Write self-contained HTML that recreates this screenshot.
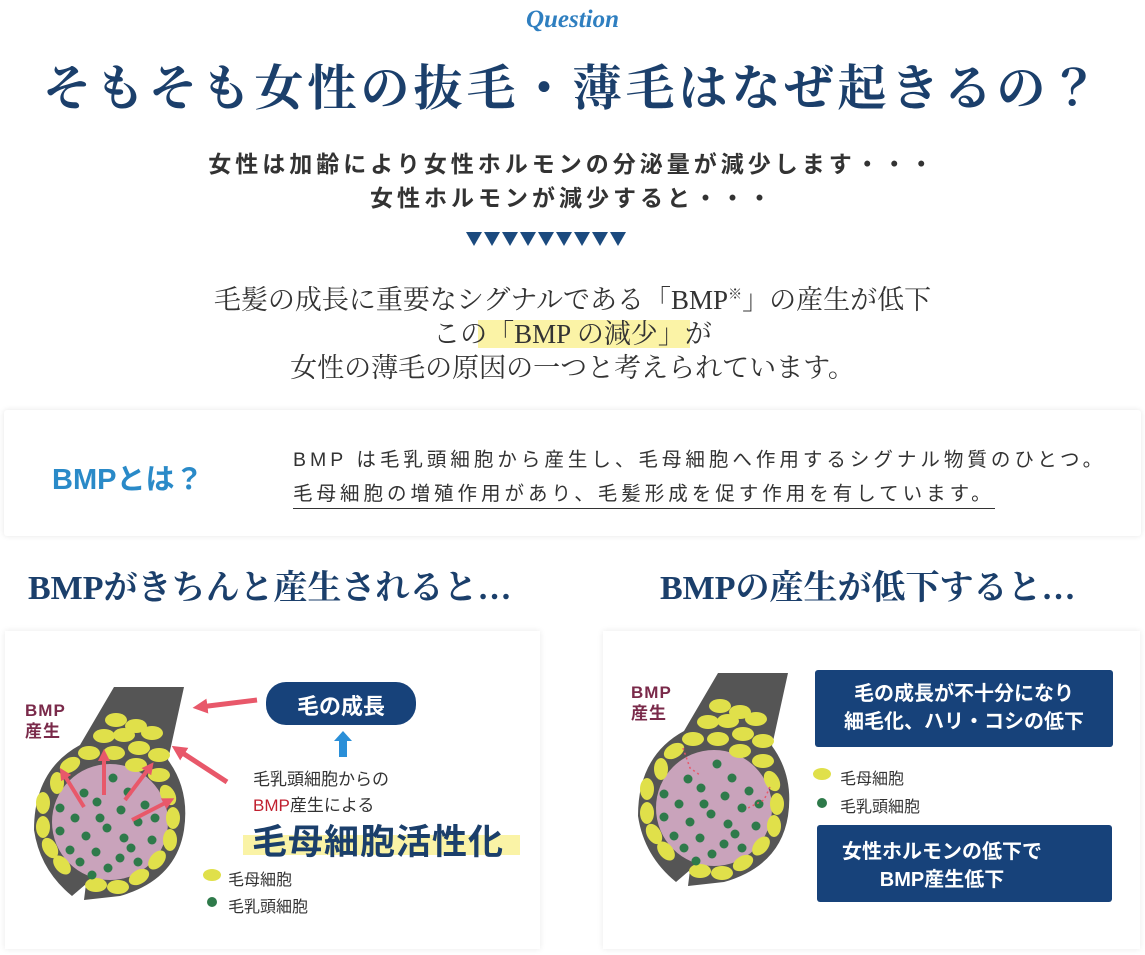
<!DOCTYPE html>
<html><head><meta charset="utf-8"><style>
*{margin:0;padding:0;box-sizing:border-box}
body{width:1145px;height:955px;background:#fff;position:relative;overflow:hidden;font-family:"Liberation Sans","Noto Sans CJK JP",sans-serif}
.a{position:absolute;white-space:nowrap}
.serif{font-family:"Liberation Serif","Noto Serif CJK JP",serif}
.c{left:0;width:1145px;text-align:center}
.navy{color:#1b3f6b}
</style></head><body>
<div class="a c serif" style="top:6px;font-size:25px;font-style:italic;font-weight:bold;color:#2f7fc0;">Question</div>
<div class="a c serif navy" style="top:50px;font-size:49px;font-weight:bold;letter-spacing:4px;">そもそも女性の抜毛・薄毛はなぜ起きるの？</div>
<div class="a c" style="top:145px;font-size:23px;font-weight:bold;color:#333;letter-spacing:4px;">女性は加齢により女性ホルモンの分泌量が減少します・・・</div>
<div class="a c" style="top:179px;font-size:23px;font-weight:bold;color:#333;letter-spacing:4px;">女性ホルモンが減少すると・・・</div>
<svg class="a" style="left:0;top:0" width="1145" height="955">
<g fill="#1b4a7e">
<polygon points="466,232 482,232 474,246"/><polygon points="484,232 500,232 492,246"/><polygon points="502,232 518,232 510,246"/><polygon points="520,232 536,232 528,246"/><polygon points="538,232 554,232 546,246"/><polygon points="556,232 572,232 564,246"/><polygon points="574,232 590,232 582,246"/><polygon points="592,232 608,232 600,246"/><polygon points="610,232 626,232 618,246"/>
</g>
<rect x="478" y="320" width="212" height="28" fill="#fbf3a6"/>
</svg>
<div class="a c serif" style="top:278px;font-size:27px;color:#333;">毛髪の成長に重要なシグナルである「BMP<sup style="font-size:14px">※</sup>」の産生が低下</div>
<div class="a c serif" style="top:312px;font-size:27px;color:#333;">この「BMP の減少」が</div>
<div class="a c serif" style="top:346px;font-size:27px;color:#333;">女性の薄毛の原因の一つと考えられています。</div>

<div class="a" style="left:4px;top:410px;width:1137px;height:126px;background:#fff;box-shadow:0 0 6px rgba(0,0,0,.10);border-radius:3px"></div>
<div class="a" style="left:52px;top:456px;font-size:29px;font-weight:bold;color:#2a8ac8;">BMPとは？</div>
<div class="a" style="left:293px;top:443px;font-size:19.5px;color:#333;letter-spacing:4px;">BMP は毛乳頭細胞から産生し、毛母細胞へ作用するシグナル物質のひとつ。</div>
<div class="a" style="left:293px;top:477px;font-size:19.5px;color:#333;letter-spacing:4px;border-bottom:1.5px solid #333;padding-bottom:2px;">毛母細胞の増殖作用があり、毛髪形成を促す作用を有しています。</div>

<div class="a serif navy" style="left:28px;top:560px;font-size:34px;font-weight:bold;">BMPがきちんと産生されると…</div>
<div class="a serif navy" style="left:660px;top:560px;font-size:34px;font-weight:bold;">BMPの産生が低下すると…</div>

<div class="a" style="left:5px;top:631px;width:535px;height:318px;background:#fff;box-shadow:0 0 6px rgba(0,0,0,.09)"></div>
<div class="a" style="left:603px;top:631px;width:537px;height:318px;background:#fff;box-shadow:0 0 6px rgba(0,0,0,.09)"></div>

<svg class="a" style="left:0;top:0" width="1145" height="955">
<defs>
<g id="fol">
<path d="M114,687 L184,687 L168,760 Q190,790 184,830 Q176,880 120,896 L84,900 L86,884 L72,896 Q40,870 34,830 Q34,770 80,745 Z" fill="#555"/>
<circle cx="110" cy="822" r="58" fill="#c9a3bb"/>
<g fill="#e0e04a">
<ellipse cx="116" cy="720" rx="11" ry="7"/><ellipse cx="136" cy="726" rx="11" ry="7"/><ellipse cx="104" cy="736" rx="11" ry="7"/><ellipse cx="124" cy="735" rx="11" ry="7"/><ellipse cx="152" cy="733" rx="11" ry="7"/><ellipse cx="139" cy="748" rx="11" ry="7"/><ellipse cx="159" cy="755" rx="11" ry="7"/><ellipse cx="114" cy="753" rx="11" ry="7"/><ellipse cx="136" cy="765" rx="11" ry="7"/><ellipse cx="159" cy="775" rx="11" ry="7"/>
<ellipse cx="70" cy="765" rx="11" ry="7" transform="rotate(-30 70 765)"/><ellipse cx="57" cy="783" rx="7" ry="11"/><ellipse cx="43" cy="803" rx="7" ry="11"/><ellipse cx="43" cy="827" rx="7" ry="11"/><ellipse cx="50" cy="848" rx="7" ry="11" transform="rotate(-30 50 848)"/><ellipse cx="62" cy="865" rx="7" ry="11" transform="rotate(-40 62 865)"/><ellipse cx="96" cy="885" rx="11" ry="7"/><ellipse cx="118" cy="887" rx="11" ry="7"/><ellipse cx="139" cy="877" rx="11" ry="7" transform="rotate(-30 139 877)"/><ellipse cx="157" cy="860" rx="11" ry="7" transform="rotate(-50 157 860)"/><ellipse cx="170" cy="840" rx="7" ry="11"/><ellipse cx="173" cy="818" rx="7" ry="11"/><ellipse cx="168" cy="795" rx="7" ry="11" transform="rotate(-30 168 795)"/><ellipse cx="89" cy="753" rx="11" ry="7"/>
</g>
<g fill="#2e7a4a">
<circle cx="113" cy="778" r="4.5"/><circle cx="84" cy="793" r="4.5"/><circle cx="128" cy="792" r="4.5"/><circle cx="97" cy="802" r="4.5"/><circle cx="121" cy="810" r="4.5"/><circle cx="145" cy="805" r="4.5"/><circle cx="60" cy="808" r="4.5"/><circle cx="75" cy="818" r="4.5"/><circle cx="100" cy="818" r="4.5"/><circle cx="138" cy="822" r="4.5"/><circle cx="155" cy="818" r="4.5"/><circle cx="60" cy="831" r="4.5"/><circle cx="86" cy="836" r="4.5"/><circle cx="107" cy="828" r="4.5"/><circle cx="124" cy="838" r="4.5"/><circle cx="152" cy="840" r="4.5"/><circle cx="70" cy="850" r="4.5"/><circle cx="96" cy="852" r="4.5"/><circle cx="131" cy="848" r="4.5"/><circle cx="80" cy="862" r="4.5"/><circle cx="108" cy="868" r="4.5"/><circle cx="138" cy="862" r="4.5"/><circle cx="92" cy="875" r="4.5"/><circle cx="120" cy="858" r="4.5"/>
</g>
</g>
<marker id="ah" markerWidth="3" markerHeight="3" refX="1.5" refY="1.5" orient="auto"><path d="M0,0 L3,1.5 L0,3 Z" fill="#e8586a"/></marker>
</defs>
<use href="#fol"/>
<g stroke="#e8586a" stroke-width="5" marker-end="url(#ah)" fill="none">
<line x1="257" y1="700" x2="200" y2="707"/><line x1="227" y1="782" x2="178" y2="750"/>
</g>
<g stroke="#e8586a" stroke-width="4" marker-end="url(#ah)" fill="none">
<line x1="84" y1="807" x2="63" y2="773"/><line x1="104" y1="795" x2="104" y2="755"/><line x1="125" y1="800" x2="150" y2="767"/><line x1="132" y1="820" x2="169" y2="801"/>
</g>
<rect x="266" y="682" width="150" height="43" rx="20" fill="#17427a"/>
<polygon points="343,731 352,741 347,741 347,757 339,757 339,741 334,741" fill="#2a8fd8"/>
<rect x="243" y="835" width="277" height="20" fill="#faf3a6"/>
<ellipse cx="212" cy="875" rx="9" ry="6" fill="#e0e04a"/><circle cx="212" cy="902" r="5" fill="#2e7a4a"/>
<g transform="translate(604,-14)"><use href="#fol"/></g>
<g stroke="#e8586a" stroke-width="1.5" stroke-dasharray="2 3" fill="none">
<path d="M683,748 L690,768 L700,775"/><path d="M770,787 L764,800 L748,808"/>
</g>
<rect x="815" y="670" width="298" height="77" rx="3" fill="#17427a"/>
<rect x="817" y="825" width="295" height="77" rx="3" fill="#17427a"/>
<ellipse cx="822" cy="774" rx="9" ry="6" fill="#e0e04a"/><circle cx="822" cy="803" r="5" fill="#2e7a4a"/>
</svg>
<div class="a" style="left:25px;top:700px;font-size:17px;font-weight:bold;color:#7a2a4a;line-height:21px;letter-spacing:1px">BMP<br>産生</div>
<div class="a" style="left:631px;top:682px;font-size:17px;font-weight:bold;color:#7a2a4a;line-height:21px;letter-spacing:1px">BMP<br>産生</div>
<div class="a" style="left:266px;top:689px;width:150px;text-align:center;font-size:22px;font-weight:bold;color:#fff">毛の成長</div>
<div class="a" style="left:253px;top:765px;font-size:17px;color:#333">毛乳頭細胞からの</div>
<div class="a" style="left:253px;top:791px;font-size:17px;color:#333"><span style="color:#c0202f">BMP</span>産生による</div>
<div class="a" style="left:252px;top:814px;font-size:35px;font-weight:bold;color:#1b3f6b;letter-spacing:1px">毛母細胞活性化</div>
<div class="a" style="left:228px;top:866px;font-size:16px;color:#333">毛母細胞</div>
<div class="a" style="left:228px;top:893px;font-size:16px;color:#333">毛乳頭細胞</div>
<div class="a" style="left:840px;top:765px;font-size:16px;color:#333">毛母細胞</div>
<div class="a" style="left:840px;top:793px;font-size:16px;color:#333">毛乳頭細胞</div>
<div class="a" style="left:815px;top:680px;width:298px;text-align:center;font-size:20px;font-weight:bold;color:#fff;line-height:28px">毛の成長が不十分になり<br>細毛化、ハリ・コシの低下</div>
<div class="a" style="left:817px;top:838px;width:250px;text-align:center;font-size:20px;font-weight:bold;color:#fff;line-height:28px">女性ホルモンの低下で<br>BMP産生低下</div>
</body></html>
